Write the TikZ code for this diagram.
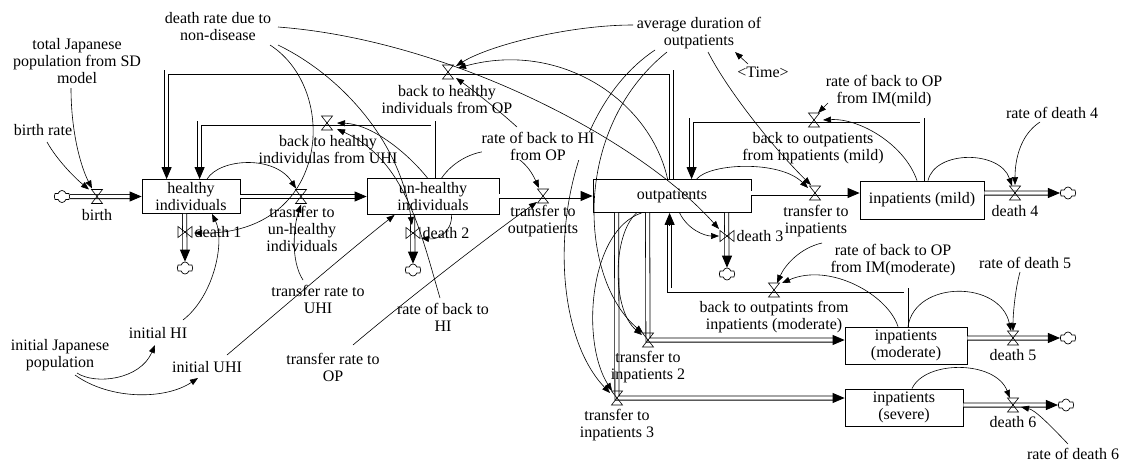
\documentclass[tikz,border=0pt]{standalone}
\usepackage{fontspec}
\setmainfont{Liberation Serif}
\usetikzlibrary{arrows.meta,shapes.symbols,calc}
\newcommand{\vtext}{\fontsize{16}{17}\selectfont}
\begin{document}
\begin{tikzpicture}[x=1pt,y=-1pt,
  lbl/.style={inner sep=0pt, align=center, font=\vtext},
  stock/.style={draw, line width=0.8pt, inner sep=0pt, align=center, font=\vtext},
  lnk/.style={line width=0.6pt, -{Triangle[length=8pt,width=6pt]}},
  pipe/.style={double distance=3.4pt, line width=0.8pt},
  ptip/.style={line width=0.8pt, -{Triangle[length=12pt,width=10pt]}},
  cloudy/.style={cloud, cloud puffs=6, cloud puff arc=150, aspect=1.4, draw, line width=0.7pt,
    minimum width=16pt, minimum height=12pt, inner sep=0pt, fill=white},
  vh/.pic={\draw[line width=0.6pt] (-5.5,-7) -- (5.5,-7) -- (-5.5,7) -- (5.5,7) -- cycle;},
  vv/.pic={\draw[line width=0.6pt] (-7,-5.5) -- (-7,5.5) -- (7,-5.5) -- (7,5.5) -- cycle;}
]
\useasboundingbox (0,0) rectangle (1129,464);

% ---------- stocks ----------
\node[stock, minimum width=98pt, minimum height=34pt] (hi) at (191,196.5) {healthy\\individuals};
\node[stock, minimum width=132pt, minimum height=36pt] (uh) at (433,196.5) {un-healthy\\individuals};
\node[stock, minimum width=158pt, minimum height=33pt] (op) at (672,196) {outpatients};
\node[stock, minimum width=124pt, minimum height=38pt] (mild) at (922,200) {inpatients (mild)};
\node[stock, minimum width=122pt, minimum height=37pt] (mod) at (906,345.5) {inpatients\\(moderate)};
\node[stock, minimum width=118pt, minimum height=37pt] (sev) at (904,407.5) {inpatients\\(severe)};

% ---------- clouds ----------
\node[cloudy] (c0) at (62,196.5) {};
\node[cloudy] (c1) at (185,268) {};
\node[cloudy] (c2) at (413,270) {};
\node[cloudy] (c3) at (727,274) {};
\node[cloudy] (c4) at (1068,193) {};
\node[cloudy] (c5) at (1068,338) {};
\node[cloudy] (c6) at (1066,405) {};

% ---------- valve positions ----------
\coordinate (vbirth) at (97,196.5);
\coordinate (vd1) at (185,232);
\coordinate (vtUH) at (301,196.5);
\coordinate (vd2) at (413,233);
\coordinate (vtOP) at (543,196);
\coordinate (vd3) at (727,236);
\coordinate (vtIM) at (815,193);
\coordinate (vd4) at (1015,193);
\coordinate (vbM) at (814,120);
\coordinate (vd5) at (1013,338);
\coordinate (vd6) at (1013,405);
\coordinate (vt2) at (648,340);
\coordinate (vt3) at (617,398);
\coordinate (vbMod) at (774,290);
\coordinate (vbHU) at (327,123);
\coordinate (vbHO) at (448,72);

% attachment points on the stocks
\coordinate (hiT1) at ([xshift=25pt]hi.north west);
\coordinate (hiT2) at ([xshift=58pt]hi.north west);
\coordinate (hiB) at ([xshift=43pt]hi.south west);
\coordinate (uhB) at ([xshift=46pt]uh.south west);
\coordinate (opT1) at ([xshift=79pt]op.north west);
\coordinate (opT2) at ([xshift=99pt]op.north west);
\coordinate (opB1) at ([xshift=24pt]op.south west);
\coordinate (opB2) at ([xshift=55pt]op.south west);
\coordinate (opB3) at ([xshift=77pt]op.south west);
\coordinate (opB4) at ([xshift=134pt]op.south west);

% ---------- pipes ----------
\draw[pipe, shorten >=11pt] (c0.east) -- (hi.west);
\draw[ptip] ([xshift=-12pt]hi.west) -- (hi.west);
\draw[pipe, shorten >=11pt] (hiB) -- (c1.north);
\draw[ptip] ([yshift=12pt]c1.north) -- (c1.north);
\draw[pipe, shorten >=11pt] (hi.east) -- (uh.west);
\draw[ptip] ([xshift=-12pt]uh.west) -- (uh.west);
\draw[pipe, shorten >=11pt] (uhB) -- (c2.north);
\draw[ptip] ([yshift=12pt]c2.north) -- (c2.north);
\draw[pipe, shorten >=11pt] (uh.east |- vtOP) -- (op.west);
\draw[ptip] ([xshift=-12pt]op.west) -- (op.west);
\draw[pipe, shorten >=11pt] (opB4) -- (c3.north);
\draw[ptip] ([yshift=12pt]c3.north) -- (c3.north);
\draw[pipe, shorten >=11pt] (op.east |- vtIM) -- (mild.west |- vtIM);
\draw[ptip] ([xshift=-12pt]mild.west |- vtIM) -- (mild.west |- vtIM);
\draw[pipe, shorten >=11pt] (mild.east |- vd4) -- (c4.west);
\draw[ptip] ([xshift=-12pt]c4.west) -- (c4.west);
\draw[pipe, shorten >=11pt] (mild.north) |- (vbM) -| (opT2);
\draw[ptip] ([yshift=12pt]opT2) -- (opT2);
\draw[pipe, shorten >=11pt] (mod.east |- vd5) -- (c5.west);
\draw[ptip] ([xshift=-12pt]c5.west) -- (c5.west);
\draw[pipe, shorten >=11pt] (sev.east |- vd6) -- (c6.west);
\draw[ptip] ([xshift=-12pt]c6.west) -- (c6.west);
\draw[pipe, shorten >=11pt] (opB2) -- (vt2) -- (mod.west |- vt2);
\draw[ptip] ([xshift=-12pt]mod.west |- vt2) -- (mod.west |- vt2);
\draw[pipe, shorten >=11pt] (opB1) -- (vt3) -- (sev.west |- vt3);
\draw[ptip] ([xshift=-12pt]sev.west |- vt3) -- (sev.west |- vt3);
\draw[pipe, shorten >=11pt] (mod.north) |- (vbMod) -| (opB3);
\draw[ptip] ([yshift=-12pt]opB3) -- (opB3);
\draw[pipe, shorten >=11pt] (uh.north) |- (vbHU) -| (hiT2);
\draw[ptip] ([yshift=12pt]hiT2) -- (hiT2);
\draw[pipe, shorten >=11pt] (opT1) |- (vbHO) -| (hiT1);
\draw[ptip] ([yshift=12pt]hiT1) -- (hiT1);

% ---------- valves ----------
\foreach \v in {vbirth,vtUH,vtOP,vtIM,vd4,vbM,vd5,vd6,vt2,vt3,vbMod,vbHU,vbHO}
  \pic at (\v) {vh};
\foreach \v in {vd1,vd2,vd3}
  \pic at (\v) {vv};

% ---------- auxiliaries ----------
\node[lbl] (totpop) at (77,61) {total Japanese\\population from SD\\model};
\node[lbl] (birthrate) at (43,130) {birth rate};
\node[lbl] (deathrate) at (218,27) {death rate due to\\non-disease};
\node[lbl] (avgdur) at (699,33) {average duration of\\outpatients};
\node[lbl] (time) at (763,72) {<Time>};
\node[lbl] (rOPmild) at (884,91) {rate of back to OP\\from IM(mild)};
\node[lbl] (rd4) at (1052,113) {rate of death 4};
\node[lbl] (trUHI) at (318,299) {transfer rate to\\UHI};
\node[lbl] (rHI) at (443,317) {rate of back to\\HI};
\node[lbl] (trOP) at (333,367) {transfer rate to\\OP};
\node[lbl] (initHI) at (158,333) {initial HI};
\node[lbl] (initJP) at (60,355) {initial Japanese\\population};
\node[lbl] (initUHI) at (207,367) {initial UHI};
\node[lbl] (rOPmod) at (893,260) {rate of back to OP\\from IM(moderate)};
\node[lbl] (rd5) at (1025,263) {rate of death 5};
\node[lbl] (rd6) at (1073,454) {rate of death 6};

% ---------- flow names ----------
\node[lbl] (lbirth) at (97,215) {birth};
\node[lbl] (ld1) at (218,232) {death 1};
\node[lbl] (ltUH) at (302,229) {trasnfer to\\un-healthy\\individuals};
\node[lbl] (lbHU) at (328,150) {back to healthy\\individulas from UHI};
\node[lbl] (ld2) at (446,233) {death 2};
\node[lbl] (ltOP) at (543,221) {transfer to\\outpatients};
\node[lbl] (lbHO) at (447,100) {back to healthy\\individuals from OP};
\node[lbl] (ld3) at (760,236) {death 3};
\node[lbl] (ltIM) at (816,221) {transfer to\\inpatients};
\node[lbl] (lbM) at (813,148) {back to outpatients\\from inpatients (mild)};
\node[lbl] (ld4) at (1015,211) {death 4};
\node[lbl] (lbMod) at (774,317) {back to outpatints from\\inpatients (moderate)};
\node[lbl] (lt2) at (648,367) {transfer to\\inpatients 2};
\node[lbl] (lt3) at (617,425) {transfer to\\inpatients 3};
\node[lbl] (ld5) at (1013,355) {death 5};
\node[lbl] (ld6) at (1013,422) {death 6};

% ---------- links passing under the "rate of back to HI from OP" label ----------
\draw[lnk] ([xshift=75pt]uh.north west) .. controls (462,148) and (515,135) .. ([shift={(-4,-8)}]vtOP);
\draw[lnk] ([shift={(-44,17)}]avgdur.center) .. controls (550,120) and (540,320) .. ([shift={(-7,-5)}]vt3);
\draw[lnk] ([shift={(-32,19)}]avgdur.center) .. controls (570,130) and (580,280) .. ([shift={(-5,-7)}]vt2);
\node[lbl, fill=white] (rHIOP) at (538,146) {rate of back to HI\\from OP};

% ---------- information links ----------
\draw[lnk] ([shift={(-6,27)}]totpop.center) .. controls (71,130) and (80,165) .. ([shift={(-5,-8)}]vbirth);
\draw[lnk] ([shift={(4,12)}]birthrate.center) .. controls (57,160) and (75,178) .. ([shift={(-8,-7)}]vbirth);
\draw[lnk] ([xshift=16pt]hi.north) .. controls (220,158) and (275,155) .. ([shift={(-5,-8)}]vtUH);
\draw[lnk] ([shift={(-15,-19)}]trUHI.center) .. controls (290,260) and (294,225) .. ([shift={(0,8)}]vtUH);
\draw[lnk] ([shift={(52,18)}]deathrate.center) .. controls (340,90) and (330,235) .. ([shift={(9,1)}]vd1);
\draw[lnk] ([shift={(60,18)}]deathrate.center) .. controls (340,75) and (400,140) .. ([shift={(-1,-8)}]vd2);
\draw[lnk] ([shift={(60,0)}]deathrate.center) .. controls (450,40) and (640,140) .. ([shift={(-8,-7)}]vd3);
\draw[lnk] ([shift={(25,-13)}]initHI.center) .. controls (215,295) and (225,240) .. ([xshift=21pt]hi.south);
\draw[lnk] ([shift={(17,18)}]initJP.center) .. controls (95,385) and (140,380) .. ([shift={(-3,12)}]initHI.center);
\draw[lnk] ([shift={(15,20)}]initJP.center) .. controls (110,400) and (165,400) .. ([shift={(-9,11)}]initUHI.center);
\draw[lnk] ([shift={(20,-12)}]initUHI.center) .. controls (280,310) and (350,250) .. ([xshift=28pt]uh.south west);
\draw[lnk] ([shift={(20,-22)}]trOP.center) .. controls (400,305) and (490,235) .. ([shift={(-6,6)}]vtOP);
\draw[lnk] ([shift={(-3,-19)}]rHI.center) .. controls (420,230) and (405,160) .. ([shift={(10,6)}]vbHU);
\draw[lnk] ([xshift=85pt]uh.south west) .. controls (452,232) and (438,240) .. ([shift={(8,5)}]vd2);
\draw[lnk] ([xshift=61pt]uh.north west) .. controls (405,150) and (370,124) .. ([shift={(10,0)}]vbHU);
\draw[lnk] ([shift={(-21,-19)}]rHIOP.center) .. controls (495,107) and (470,88) .. ([shift={(8,6)}]vbHO);
\draw[lnk] ([shift={(-66,-8)}]avgdur.center) .. controls (570,25) and (490,45) .. ([shift={(8,-6)}]vbHO);
\draw[lnk] ([xshift=75pt]op.north west) .. controls (650,100) and (560,40) .. ([shift={(10,-4)}]vbHO);
\draw[lnk] ([shift={(9,19)}]avgdur.center) .. controls (730,95) and (780,155) .. ([shift={(-4,-8)}]vtIM);
\draw[lnk] ([shift={(-15,-8)}]time.center) -- ([shift={(36,19)}]avgdur.center);
\draw[lnk] ([shift={(-56,12)}]rOPmild.center) -- ([shift={(4,-7)}]vbM);
\draw[lnk] ([xshift=-5pt]mild.north) .. controls (905,145) and (860,118) .. ([shift={(9,0)}]vbM);
\draw[lnk] ([xshift=104pt]op.north west) .. controls (710,163) and (780,160) .. ([shift={(-7,-5)}]vtIM);
\draw[lnk] ([xshift=6pt]mild.north) .. controls (935,150) and (1000,150) .. ([shift={(-3,-7)}]vd4);
\draw[lnk] ([shift={(-12,9)}]rd4.center) .. controls (1020,135) and (1015,160) .. ([shift={(0,-8)}]vd4);
\draw[lnk] ([xshift=87pt]op.south west) .. controls (688,230) and (705,236) .. ([shift={(-8,0)}]vd3);
\draw[lnk] ([xshift=44pt]op.south west) .. controls (612,235) and (612,310) .. ([shift={(-6,-5)}]vt2);
\draw[lnk] ([xshift=49pt]op.south west) .. controls (590,230) and (580,340) .. ([shift={(-5,-7)}]vt3);
\draw[lnk] ([xshift=-8pt]mod.north) .. controls (888,295) and (830,262) .. ([shift={(8,-7)}]vbMod);
\draw[lnk] ([shift={(-71,-17)}]rOPmod.center) .. controls (800,248) and (785,265) .. ([shift={(3,-7)}]vbMod);
\draw[lnk] ([xshift=2pt]mod.north) .. controls (915,280) and (1000,280) .. ([shift={(-2,-7)}]vd5);
\draw[lnk] ([shift={(-5,9)}]rd5.center) .. controls (1015,290) and (1013,315) .. ([shift={(0,-7)}]vd5);
\draw[lnk] ([xshift=8pt]sev.north) .. controls (925,360) and (995,360) .. ([shift={(-3,-7)}]vd6);
\draw[lnk] ([shift={(-5,-10)}]rd6.center) .. controls (1050,425) and (1035,410) .. ([shift={(8,2)}]vd6);
\end{tikzpicture}
\end{document}
